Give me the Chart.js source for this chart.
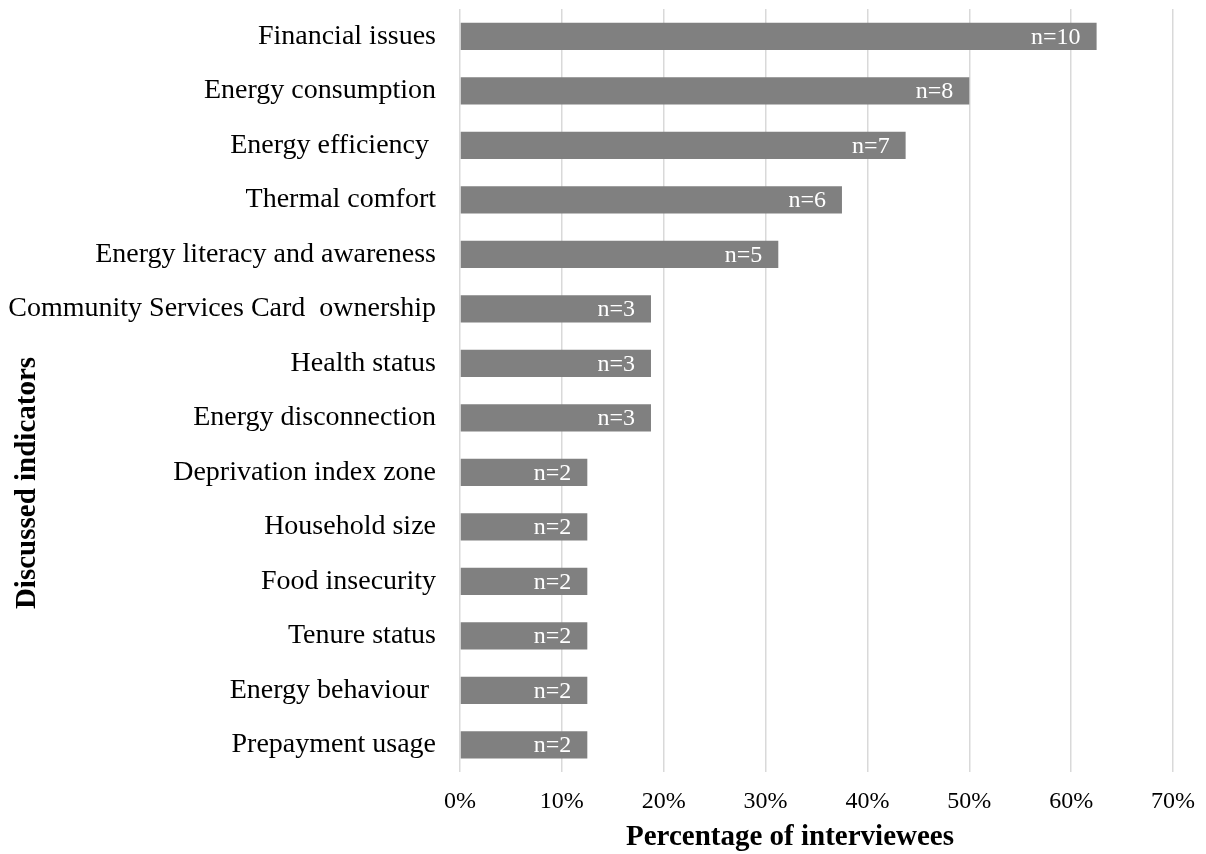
<!DOCTYPE html>
<html>
<head>
<meta charset="utf-8">
<script src="https://cdn.jsdelivr.net/npm/chart.js@4"></script>
<style>
  html, body { margin: 0; padding: 0; background: #fff; }
  #wrap { width: 1206px; height: 854px; }
</style>
</head>
<body>
<div id="wrap"><canvas id="indicatorChart"></canvas></div>
<script>
const indicators = [
  'Financial issues',
  'Energy consumption',
  'Energy efficiency ',
  'Thermal comfort',
  'Energy literacy and awareness',
  'Community Services Card  ownership',
  'Health status',
  'Energy disconnection',
  'Deprivation index zone',
  'Household size',
  'Food insecurity',
  'Tenure status',
  'Energy behaviour ',
  'Prepayment usage'
];
// number of interviewees mentioning each indicator (out of 16)
const counts = [10, 8, 7, 6, 5, 3, 3, 3, 2, 2, 2, 2, 2, 2];
const totalInterviewees = 16;
const percentages = counts.map(n => n / totalInterviewees * 100);

const serif = "'Liberation Serif', 'Times New Roman', serif";

// write "n=.." inside the end of each bar, and the two axis titles
const barLabels = {
  id: 'barLabels',
  afterDatasetsDraw(chart) {
    const ctx = chart.ctx;
    const meta = chart.getDatasetMeta(0);
    ctx.save();
    ctx.fillStyle = '#ffffff';
    ctx.font = '24px ' + serif;
    ctx.textAlign = 'right';
    ctx.textBaseline = 'middle';
    meta.data.forEach((bar, i) => {
      ctx.fillText('n=' + counts[i], bar.x - 16, bar.y + 1);
    });

    ctx.fillStyle = '#000000';
    ctx.font = 'bold 29px ' + serif;
    ctx.textAlign = 'center';
    ctx.textBaseline = 'alphabetic';
    ctx.fillText('Percentage of interviewees', 790, 845);
    ctx.translate(35, 483);
    ctx.rotate(-Math.PI / 2);
    ctx.fillText('Discussed indicators', 0, 0);
    ctx.restore();
  }
};

new Chart(document.getElementById('indicatorChart').getContext('2d'), {
  type: 'bar',
  data: {
    labels: indicators,
    datasets: [{
      data: percentages,
      backgroundColor: '#808080',
      borderWidth: 0,
      categoryPercentage: 0.5,
      barPercentage: 1.0
    }]
  },
  options: {
    indexAxis: 'y',
    responsive: true,
    maintainAspectRatio: false,
    animation: false,
    layout: { padding: { top: 9, right: 33, left: 0, bottom: 0 } },
    plugins: {
      legend: { display: false },
      tooltip: { enabled: false }
    },
    scales: {
      x: {
        min: 0,
        max: 70,
        ticks: {
          stepSize: 10,
          padding: 15,
          color: '#000',
          font: { family: serif, size: 24 },
          callback: v => v + '%'
        },
        grid: { color: '#d9d9d9', lineWidth: 1.5, drawTicks: false },
        border: { display: false },
        afterFit: s => {
          s.height = 82;
          s.paddingLeft = 0;
          s.paddingRight = 0;
        }
      },
      y: {
        ticks: {
          padding: 24,
          color: '#000',
          font: { family: serif, size: 28 }
        },
        grid: { display: false, drawTicks: false },
        border: { display: false },
        afterFit: s => {
          s.width = 460;
          s.paddingTop = 0;
          s.paddingBottom = 0;
        }
      }
    }
  },
  plugins: [barLabels]
});
</script>
</body>
</html>
